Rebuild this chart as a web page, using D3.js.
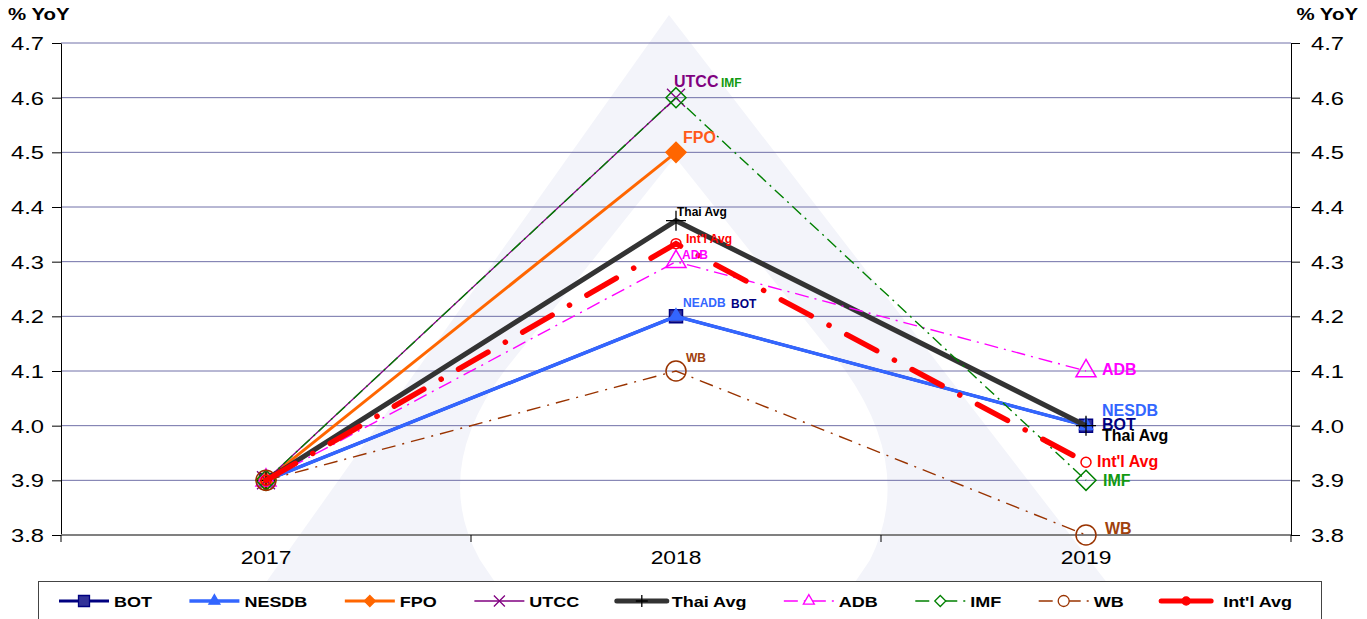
<!DOCTYPE html>
<html>
<head>
<meta charset="utf-8">
<script src="https://cdn.jsdelivr.net/npm/d3@7"></script>
<style>
body { margin: 0; background: #fff; }
text { font-family: "Liberation Sans", Arial, sans-serif; }
</style>
</head>
<body>
<div id="vis"></div>
<script>
// data
var years = ["2017", "2018", "2019"];
var seriesNames = ["BOT", "NESDB", "FPO", "UTCC", "Thai Avg", "ADB", "IMF", "WB", "Int'l Avg"];
var botValues = [3.9, 4.2, 4.0];
var nesdbValues = [3.9, 4.2, 4.0];
var fpoValues = [3.9, 4.5, null];
var utccValues = [3.9, 4.6, null];
var thaiAvgValues = [3.9, 4.375, 4.0];
var adbValues = [3.9, 4.3, 4.1];
var imfValues = [3.9, 4.6, 3.9];
var wbValues = [3.9, 4.1, 3.8];
var intlAvgValues = [3.9, 4.333, 3.933];
var yTicks = [3.8, 3.9, 4.0, 4.1, 4.2, 4.3, 4.4, 4.5, 4.6, 4.7];
var labels2018 = ["BOT", "NEADB", "FPO", "UTCC", "Thai Avg", "ADB", "IMF", "WB", "Int'l Avg"];
var labels2019 = ["BOT", "NESDB", "", "", "Thai Avg", "ADB", "IMF", "WB", "Int'l Avg"];
var axisTitle = "% YoY";

var seriesValues = [botValues, nesdbValues, fpoValues, utccValues, thaiAvgValues,
                    adbValues, imfValues, wbValues, intlAvgValues];

// look of each series
var look = {
  "BOT":       {color: "#000080", fill: "#333399", width: 3,   dash: null,          mark: "square",   ms: 13, lab: "#000080"},
  "NESDB":     {color: "#3366ff", fill: "#3366ff", width: 3.5, dash: null,          mark: "triangle", ms: 13, lab: "#3366ff"},
  "FPO":       {color: "#ff6600", fill: "#ff6600", width: 3,   dash: null,          mark: "diamond",  ms: 20, lab: "#ff5a1a"},
  "UTCC":      {color: "#800080", fill: "none",    width: 1.3, dash: null,          mark: "x",        ms: 18, lab: "#800080"},
  "Thai Avg":  {color: "#333333", fill: "none",    width: 5,   dash: null,          mark: "plus",     ms: 20, lab: "#000000"},
  "ADB":       {color: "#ff00ff", fill: "none",    width: 1.4, dash: "14,6,2,6",    mark: "triangle", ms: 20, lab: "#ff00ff"},
  "IMF":       {color: "#008000", fill: "none",    width: 1.4, dash: "12,5,2,5",    mark: "diamond",  ms: 20, lab: "#119911"},
  "WB":        {color: "#993300", fill: "none",    width: 1.4, dash: "14,7,2,7",    mark: "circle",   ms: 20, lab: "#a0410d"},
  "Int'l Avg": {color: "#ff0000", fill: "none",    width: 5.5, dash: "34,20,0.1,20", mark: "circle",  ms: 10, lab: "#ff0000"}
};

// label offsets from their point: dx, dy, font size
var labPos = {
  "2018": {"BOT": [55, -8, 12], "NESDB": [7, -9, 12], "FPO": [7, -9, 16], "UTCC": [-2, -11, 16],
           "Thai Avg": [1, -5, 12], "ADB": [6, -3, 12], "IMF": [45, -11, 12], "WB": [10, -9, 12],
           "Int'l Avg": [10, -1, 12]},
  "2019": {"BOT": [16, 4, 16], "NESDB": [16, -10, 16], "Thai Avg": [16, 15, 16], "ADB": [16, 4, 16],
           "IMF": [17, 6, 16], "WB": [19, -1, 16], "Int'l Avg": [11, 5, 16]}
};

var W = 1367, H = 619;
var pL = 61, pR = 1291, pT = 43, pB = 535;

function markPath(type, s) {
  var h = s / 2;
  switch (type) {
    case "square":   return "M" + -h + "," + -h + "H" + h + "V" + h + "H" + -h + "Z";
    case "triangle": var t = s * 0.866; return "M0," + (-t * 2 / 3) + "L" + h + "," + (t / 3) + "L" + -h + "," + (t / 3) + "Z";
    case "diamond":  return "M0," + -h + "L" + h + ",0L0," + h + "L" + -h + ",0Z";
    case "x":        return "M" + -h + "," + -h + "L" + h + "," + h + "M" + -h + "," + h + "L" + h + "," + -h;
    case "plus":     return "M" + -h + ",0H" + h + "M0," + -h + "V" + h;
    case "circle":   return "M" + h + ",0A" + h + "," + h + " 0 1,1 " + -h + ",0A" + h + "," + h + " 0 1,1 " + h + ",0Z";
  }
}

// text that is stretched sideways, like the pasted original
function stretched(g, x, y, str, size, sx, anchor, weight, color) {
  return g.append("text")
    .attr("transform", "translate(" + x + "," + y + ") scale(" + sx + ",1)")
    .attr("text-anchor", anchor)
    .attr("font-size", size)
    .attr("font-weight", weight)
    .attr("fill", color)
    .text(str);
}

var svg = d3.select("#vis").append("svg")
  .attr("width", W)
  .attr("height", H);

// faint watermark logo
var wm = svg.append("g");
wm.append("path")
  .attr("d", "M669,15 L240,619 L1135,619 Z")
  .attr("fill", "#f3f4fa");
wm.append("path")
  .attr("d", "M675,157 L505,370 Q430,470 480,560 L520,619 L830,619 L870,560 Q915,470 845,370 Z")
  .attr("fill", "#ffffff");

var x = d3.scaleBand().domain(years).range([pL, pR]);
var cx = function(d) { return x(d) + x.bandwidth() / 2; };
var y = d3.scaleLinear().domain([3.8, 4.7]).range([pB, pT]);

// gridlines
svg.append("g").selectAll("line")
  .data(yTicks.filter(function(d) { return d > 3.8; }))
  .enter().append("line")
  .attr("x1", pL).attr("x2", pR)
  .attr("y1", function(d) { return y(d); })
  .attr("y2", function(d) { return y(d); })
  .attr("stroke", "#7070a8")
  .attr("stroke-width", 1);

// left + right axes
var fmt = d3.format(".1f");
var ax = svg.append("g").attr("transform", "translate(" + pL + ",0)")
  .call(d3.axisLeft(y).tickValues(yTicks).tickSize(9).tickSizeOuter(0).tickFormat(""));
var ax2 = svg.append("g").attr("transform", "translate(" + pR + ",0)")
  .call(d3.axisRight(y).tickValues(yTicks).tickSize(9).tickSizeOuter(0).tickFormat(""));
[ax, ax2].forEach(function(a) {
  a.select(".domain").attr("stroke", "#000");
  a.selectAll(".tick line").attr("stroke", "#000");
});
var tl = svg.append("g");
yTicks.forEach(function(t) {
  stretched(tl, pL - 17, y(t) + 7, fmt(t), 19, 1.25, "end", "normal", "#000");
  stretched(tl, pR + 20, y(t) + 7, fmt(t), 19, 1.25, "start", "normal", "#000");
});
stretched(tl, 8, 20, axisTitle, 17, 1.2, "start", "bold", "#000");
stretched(tl, 1358, 20, axisTitle, 17, 1.2, "end", "bold", "#000");

// category axis
var bx = svg.append("g").attr("transform", "translate(0," + pB + ")");
bx.append("line").attr("x1", pL).attr("x2", pR)
  .attr("stroke", "#808080").attr("stroke-width", 2);
bx.selectAll(".tk").data(d3.range(years.length + 1))
  .enter().append("line")
  .attr("x1", function(i) { return pL + i * x.bandwidth(); })
  .attr("x2", function(i) { return pL + i * x.bandwidth(); })
  .attr("y1", 0).attr("y2", 7)
  .attr("stroke", "#000");
years.forEach(function(yr) {
  stretched(bx, cx(yr), 29, yr, 19, 1.2, "middle", "normal", "#000");
});

// series lines
var line = d3.line()
  .defined(function(d) { return d.v != null; })
  .x(function(d) { return cx(d.year); })
  .y(function(d) { return y(d.v); });

var series = seriesNames.map(function(name, i) {
  return {name: name, pts: years.map(function(yr, j) { return {year: yr, v: seriesValues[i][j]}; })};
});

var sg = svg.append("g").selectAll("g").data(series).enter().append("g");
sg.append("path")
  .attr("d", function(d) { return line(d.pts); })
  .attr("fill", "none")
  .attr("stroke", function(d) { return look[d.name].color; })
  .attr("stroke-width", function(d) { return look[d.name].width; })
  .attr("stroke-dasharray", function(d) { return look[d.name].dash; })
  .attr("stroke-linecap", function(d) { return d.name == "Int'l Avg" ? "round" : "butt"; })
  .attr("stroke-linejoin", "miter");

sg.each(function(d) {
  var L = look[d.name];
  d3.select(this).selectAll(".m")
    .data(d.pts.filter(function(p) { return p.v != null; }))
    .enter().append("path")
    .attr("transform", function(p) { return "translate(" + cx(p.year) + "," + y(p.v) + ")"; })
    .attr("d", markPath(L.mark, L.ms))
    .attr("fill", L.fill)
    .attr("stroke", L.mark == "plus" ? "#000" : L.color)
    .attr("stroke-width", L.mark == "plus" || L.mark == "x" ? 1.3 : 1.5);
});

// point labels at 2018 and 2019
var lg = svg.append("g");
[["2018", labels2018], ["2019", labels2019]].forEach(function(pair) {
  var yr = pair[0], texts = pair[1], j = years.indexOf(yr);
  seriesNames.forEach(function(name, i) {
    if (!texts[i] || seriesValues[i][j] == null) return;
    var p = labPos[yr][name];
    lg.append("text")
      .attr("x", cx(yr) + p[0])
      .attr("y", y(seriesValues[i][j]) + p[1])
      .attr("font-size", p[2])
      .attr("font-weight", "bold")
      .attr("fill", look[name].lab)
      .text(texts[i]);
  });
});

// legend
var leg = svg.append("g");
leg.append("rect")
  .attr("x", 38.5).attr("y", 581.5).attr("width", 1283).attr("height", 60)
  .attr("fill", "#fff").attr("stroke", "#444").attr("stroke-width", 1);

var legSx = 1.2, lineLen = 50, legY = 601;
var items = leg.selectAll(".it").data(seriesNames).enter().append("g");
items.each(function(name) {
  var g = d3.select(this), L = look[name];
  g.append("line")
    .attr("x1", 0).attr("x2", lineLen).attr("y1", 0).attr("y2", 0)
    .attr("stroke", L.color)
    .attr("stroke-width", Math.min(L.width, 5))
    .attr("stroke-linecap", name == "Int'l Avg" || name == "Thai Avg" ? "round" : "butt")
    .attr("stroke-dasharray", L.dash && L.width < 2 ? "14,6,2,6" : null);
  g.append("path")
    .attr("transform", "translate(" + lineLen / 2 + ",0)")
    .attr("d", markPath(L.mark, L.mark == "circle" && name == "Int'l Avg" ? 8 : (L.mark == "plus" ? 12 : 11)))
    .attr("fill", name == "Int'l Avg" ? "#ff0000" : (L.fill == "none" ? "#fff" : L.fill))
    .attr("stroke", L.mark == "plus" ? "#000" : L.color)
    .attr("stroke-width", 1.3);
  stretched(g, lineLen + (name == "Int'l Avg" ? 12 : 5), 6, name, 15, legSx, "start", "bold", "#000");
});
// spread items across the legend box
var widths = [];
items.each(function() { widths.push(this.getBBox().width); });
var total = d3.sum(widths);
var gap = (1292 - 59 - total) / (seriesNames.length - 1);
var pos = 59;
items.attr("transform", function(d, i) {
  var t = "translate(" + pos + "," + legY + ")";
  pos += widths[i] + gap;
  return t;
});
</script>
</body>
</html>
